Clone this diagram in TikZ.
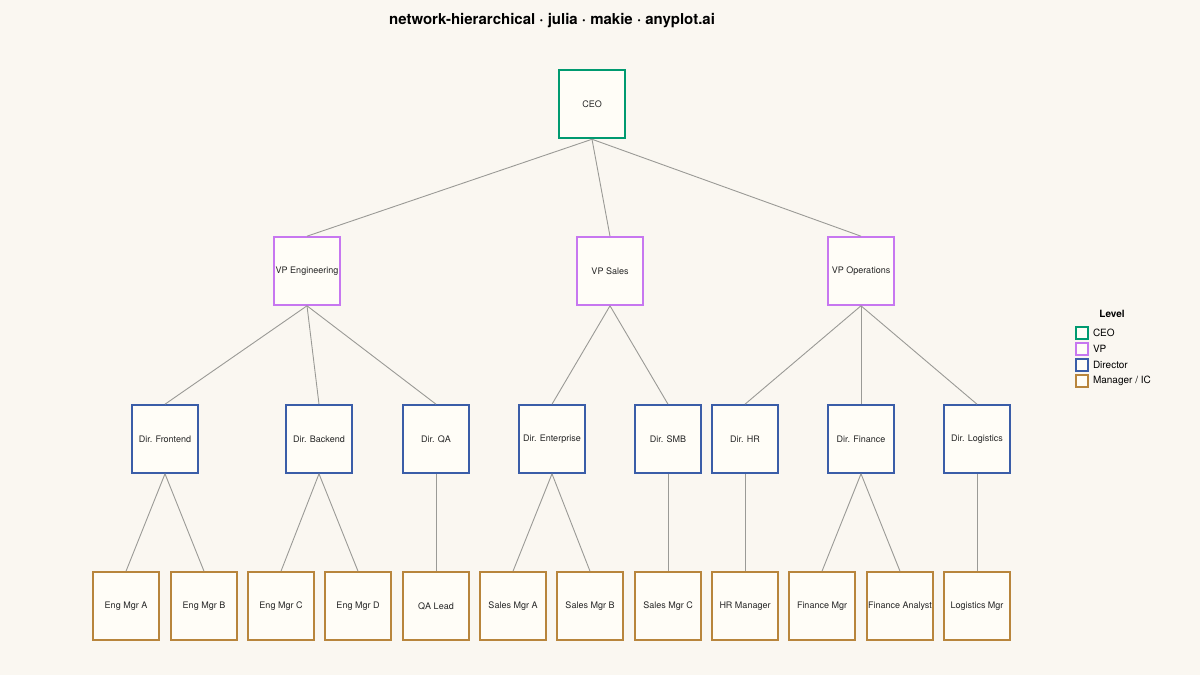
\documentclass[tikz,border=0pt]{standalone}
\usepackage{fontspec}
\setmainfont{TeX Gyre Heros}
\begin{document}
\begin{tikzpicture}[x=1pt,y=-1pt,
  box/.style={draw=#1,line width=1.6pt,fill=nodefill,minimum width=66pt,minimum height=68pt,inner sep=0pt,font=\fontsize{9}{10}\selectfont,text=black!85},
  edge/.style={draw=edgec,line width=0.9pt},
  lg/.style={draw=#1,line width=1.6pt,fill=nodefill,minimum size=12pt,inner sep=0pt}]
\definecolor{bg}{HTML}{FAF7F1}
\definecolor{nodefill}{HTML}{FFFDF7}
\definecolor{edgec}{HTML}{9A9A96}
\definecolor{ceoc}{HTML}{009A70}
\definecolor{vpc}{HTML}{C777F0}
\definecolor{dirc}{HTML}{3A5DA8}
\definecolor{mgrc}{HTML}{B8853C}
\fill[bg] (0,0) rectangle (1200,675);
\useasboundingbox (0,0) rectangle (1200,675);
\node (title) at (552,21) {\fontsize{15}{18}\selectfont\bfseries network-hierarchical · julia · makie · anyplot.ai};
\node[box=ceoc,line width=2.5pt] (ceo) at (592,104) {CEO};
\node[box=vpc] (vpe) at (307,271) {VP Engineering};
\node[box=vpc] (vps) at (610,271) {VP Sales};
\node[box=vpc] (vpo) at (861,271) {VP Operations};
\node[box=dirc] (dfe) at (165,439) {Dir. Frontend};
\node[box=dirc] (dbe) at (319,439) {Dir. Backend};
\node[box=dirc] (dqa) at (436,439) {Dir. QA};
\node[box=dirc] (den) at (552,439) {Dir. Enterprise};
\node[box=dirc] (dsm) at (668,439) {Dir. SMB};
\node[box=dirc] (dhr) at (745,439) {Dir. HR};
\node[box=dirc] (dfi) at (861,439) {Dir. Finance};
\node[box=dirc] (dlo) at (977,439) {Dir. Logistics};
\node[box=mgrc] (ea) at (126,606) {Eng Mgr A};
\node[box=mgrc] (eb) at (204,606) {Eng Mgr B};
\node[box=mgrc] (ec) at (281,606) {Eng Mgr C};
\node[box=mgrc] (ed) at (358,606) {Eng Mgr D};
\node[box=mgrc] (qa) at (436,606) {QA Lead};
\node[box=mgrc] (sa) at (513,606) {Sales Mgr A};
\node[box=mgrc] (sb) at (590,606) {Sales Mgr B};
\node[box=mgrc] (sc) at (668,606) {Sales Mgr C};
\node[box=mgrc] (hr) at (745,606) {HR Manager};
\node[box=mgrc] (fm) at (822,606) {Finance Mgr};
\node[box=mgrc] (fa) at (900,606) {Finance Analyst};
\node[box=mgrc] (lm) at (977,606) {Logistics Mgr};
\foreach \a/\b in {ceo/vpe,ceo/vps,ceo/vpo,vpe/dfe,vpe/dbe,vpe/dqa,vps/den,vps/dsm,vpo/dhr,vpo/dfi,vpo/dlo,
  dfe/ea,dfe/eb,dbe/ec,dbe/ed,dqa/qa,den/sa,den/sb,dsm/sc,dhr/hr,dfi/fm,dfi/fa,dlo/lm}
  \draw[edge] (\a.south) -- (\b.north);
\node[font=\fontsize{10}{12}\selectfont\bfseries] (lt) at (1112,314) {Level};
\node[lg=ceoc] (l1) at (1082,333) {};
\node[lg=vpc] (l2) at (1082,349) {};
\node[lg=dirc] (l3) at (1082,365) {};
\node[lg=mgrc] (l4) at (1082,381) {};
\foreach \n/\t in {l1/CEO,l2/VP,l3/Director,l4/{Manager / IC}}
  \node[anchor=west,font=\fontsize{10}{12}\selectfont,inner sep=0pt] at ([xshift=4pt]\n.east) {\t};
\end{tikzpicture}
\end{document}
